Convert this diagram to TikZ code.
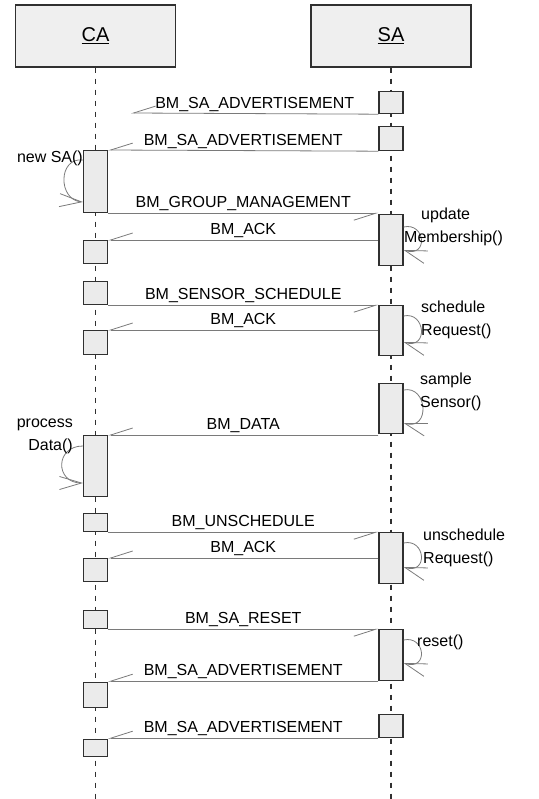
\documentclass[tikz,border=0pt]{standalone}
\usepackage{fontspec}
\setmainfont{Liberation Sans}
\usetikzlibrary{arrows.meta}
\tikzset{>=latex}

\definecolor{boxfill}{HTML}{EBEBEB}
\definecolor{headfill}{HTML}{EFEFEF}
\definecolor{edge}{HTML}{303030}
\definecolor{msgline}{HTML}{7A7A7A}

\tikzset{
  head/.style={draw=edge, line width=1.3pt, fill=headfill, minimum width=160pt,
    minimum height=62pt, font=\fontsize{20}{24}\selectfont},
  act/.style={draw=edge, line width=1.2pt, fill=boxfill, minimum width=24pt,
    inner sep=0pt, anchor=north},
  life/.style={draw=edge, line width=1.2pt, dash pattern=on 5pt off 6pt},
  msg/.style={draw=msgline, line width=0.8pt,
    -{Straight Barb[harpoon, swap, length=22pt, width=14pt]}},
  msglabel/.style={font=\fontsize{16}{19}\selectfont, inner sep=2pt, above},
  selfcall/.style={draw=msgline, line width=0.8pt,
    -{Straight Barb[length=22pt, width=13pt]}},
  call/.style={font=\fontsize{16}{23}\selectfont, inner sep=0pt},
}

\begin{document}
\begin{tikzpicture}[x=1pt, y=-1pt]
\useasboundingbox (0,0) rectangle (538,799);

% objects and lifelines
\node[head] (ca) at (95.5,36) {\underline{CA}};
\node[head] (sa) at (391,36) {\underline{SA}};
\coordinate (caend) at (95.5,799);
\coordinate (saend) at (391,799);
\draw[life] (ca.south) -- (caend);
\draw[life] (sa.south) -- (saend);

% activations of CA
\node[act, minimum height=62pt] (c1) at (95.5,150) {};
\node[act, minimum height=23pt] (c2) at (95.5,240) {};
\node[act, minimum height=23pt] (c3) at (95.5,281) {};
\node[act, minimum height=24pt] (c4) at (95.5,330) {};
\node[act, minimum height=61pt] (c5) at (95.5,435) {};
\node[act, minimum height=18pt] (c6) at (95.5,513) {};
\node[act, minimum height=23pt] (c7) at (95.5,558) {};
\node[act, minimum height=18pt] (c8) at (95.5,610) {};
\node[act, minimum height=25pt] (c9) at (95.5,682) {};
\node[act, minimum height=17pt] (c10) at (95.5,739) {};

% activations of SA
\node[act, minimum height=22pt] (s1) at (391,91) {};
\node[act, minimum height=24pt] (s2) at (391,126) {};
\node[act, minimum height=51pt] (u1) at (391,214) {};
\node[act, minimum height=50pt] (r1) at (391,305) {};
\node[act, minimum height=50pt] (m1) at (391,383) {};
\node[act, minimum height=51pt] (un1) at (391,532) {};
\node[act, minimum height=51pt] (re1) at (391,629) {};
\node[act, minimum height=23pt] (s3) at (391,714) {};

% messages
\coordinate (lost) at (131,113);
\draw[msg] (s1.south west) -- (lost)
  node[msglabel, midway] {BM\_SA\_ADVERTISEMENT};
\draw[msg] (s2.south west) -- (c1.north east)
  node[msglabel, midway] {BM\_SA\_ADVERTISEMENT};
\draw[msg] (c1.south east) -- (c1.south east -| u1.west)
  node[msglabel, midway] {BM\_GROUP\_MANAGEMENT};
\draw[msg] (u1.west |- c2.north) -- (c2.north east)
  node[msglabel, midway] {BM\_ACK};
\draw[msg] (c3.south east) -- (c3.south east -| r1.west)
  node[msglabel, midway] {BM\_SENSOR\_SCHEDULE};
\draw[msg] (r1.west |- c4.north) -- (c4.north east)
  node[msglabel, midway] {BM\_ACK};
\draw[msg] (m1.west |- c5.north) -- (c5.north east)
  node[msglabel, midway] {BM\_DATA};
\draw[msg] (c6.south east) -- (c6.south east -| un1.west)
  node[msglabel, midway] {BM\_UNSCHEDULE};
\draw[msg] (un1.west |- c7.north) -- (c7.north east)
  node[msglabel, midway] {BM\_ACK};
\draw[msg] (c8.south east) -- (c8.south east -| re1.west)
  node[msglabel, midway] {BM\_SA\_RESET};
\draw[msg] (re1.south west) -- (re1.south west -| c9.east)
  node[msglabel, midway] {BM\_SA\_ADVERTISEMENT};
\draw[msg] (s3.south west) -- (s3.south west -| c10.east)
  node[msglabel, midway] {BM\_SA\_ADVERTISEMENT};

% self calls
\draw[selfcall] ([yshift=-10pt]c1.north west) .. controls +(-25,-3) and +(-25,-2) .. ([yshift=-52pt]c1.north west);
\draw[selfcall] ([yshift=-11pt]c5.north west) .. controls +(-28,0) and +(-28,0) .. ([yshift=-48pt]c5.north west);
\draw[selfcall] ([yshift=-13pt]u1.north east) .. controls +(22,-5) and +(25,8) .. ([yshift=-36pt]u1.north east);
\draw[selfcall] ([yshift=-11pt]r1.north east) .. controls +(22,-5) and +(25,8) .. ([yshift=-37pt]r1.north east);
\draw[selfcall] ([yshift=-7pt]m1.north east) .. controls +(24,-5) and +(27,8) .. ([yshift=-40pt]m1.north east);
\draw[selfcall] ([yshift=-11pt]un1.north east) .. controls +(22,-5) and +(25,8) .. ([yshift=-35pt]un1.north east);
\draw[selfcall] ([yshift=-11pt]re1.north east) .. controls +(22,-5) and +(25,8) .. ([yshift=-34pt]re1.north east);

% call labels (base = last line)
\node[call, anchor=base east] (newsa) at (83,163) {new SA()};
\node[call, anchor=base east, align=right] (proc) at (73,450) {process\\Data()};
\node[call, anchor=base west, align=left] (upd) at (421,243) {update\\\hspace*{-17pt}Membership()};
\node[call, anchor=base west, align=left] (sched) at (421,335) {schedule\\Request()};
\node[call, anchor=base west, align=left] (samp) at (420,407) {sample\\Sensor()};
\node[call, anchor=base west, align=left] (unsched) at (423,563) {unschedule\\Request()};
\node[call, anchor=base west] (rst) at (417,646) {reset()};
\end{tikzpicture}
\end{document}
